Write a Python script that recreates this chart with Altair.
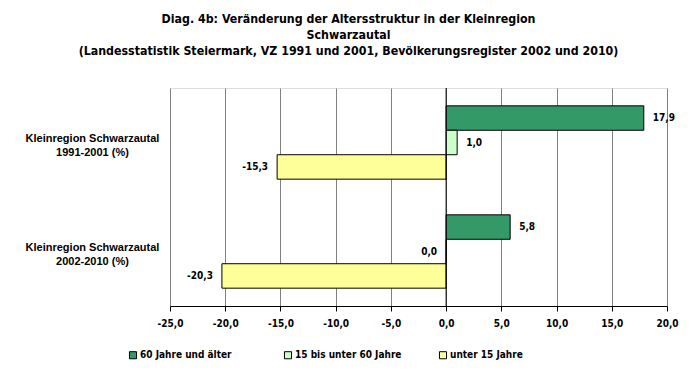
import altair as alt
import pandas as pd

categories = ["Kleinregion Schwarzautal|1991-2001 (%)", "Kleinregion Schwarzautal|2002-2010 (%)"]
series = ["60 Jahre und älter", "15 bis unter 60 Jahre", "unter 15 Jahre"]
values_1991_2001 = [17.9, 1.0, -15.3]
values_2002_2010 = [5.8, 0.0, -20.3]
x_ticks = [-25, -20, -15, -10, -5, 0, 5, 10, 15, 20]
colors = ["#339966", "#CCFFCC", "#FFFF99"]
title_lines = [
    "Diag. 4b: Veränderung  der Altersstruktur  in der Kleinregion",
    "Schwarzautal",
    "(Landesstatistik  Steiermark,  VZ 1991  und 2001,  Bevölkerungsregister  2002 und 2010)",
]

rows = []
for cat, vals in zip(categories, [values_1991_2001, values_2002_2010]):
    for s, v in zip(series, vals):
        rows.append({"cat": cat, "series": s, "value": v,
                     "label": f"{v:.1f}".replace(".", ",")})
df = pd.DataFrame(rows)

NARROW = "Liberation Sans Narrow, DejaVu Sans Condensed, Arial Narrow, sans-serif"
REG = "Liberation Sans, Arial, sans-serif"

xscale = alt.Scale(domain=[-25, 20], nice=False, zero=False)
yscale = alt.Scale(domain=categories, paddingInner=0, paddingOuter=0)
yoff = alt.Scale(domain=series, paddingInner=0, paddingOuter=0.73)

base = alt.Chart(df)

bars = base.mark_bar(stroke="black", strokeWidth=1).encode(
    x=alt.X("value:Q", scale=xscale, title=None,
            axis=alt.Axis(values=x_ticks, format=".1f",
                          labelExpr="replace(replace(datum.label, '.', ','), '−', '-')",
                          grid=True, gridColor="#808080", gridWidth=1,
                          domainColor="black", tickColor="black", tickSize=5,
                          labelFont=NARROW, labelFontSize=10, labelFontWeight="bold",
                          labelColor="black", labelPadding=7, labelFlush=False,
                          labelOverlap=False)),
    y=alt.Y("cat:N", scale=yscale, sort=categories, title=None,
            axis=alt.Axis(labelExpr="split(datum.label, '|')", domain=False, ticks=False,
                          grid=False, labelAlign="center", labelBaseline="middle",
                          labelPadding=78, labelFont=REG, labelFontSize=11,
                          labelFontWeight="bold", labelColor="black", labelLineHeight=14,
                          labelOffset=-4, labelLimit=300)),
    yOffset=alt.YOffset("series:N", scale=yoff, sort=series),
    color=alt.Color("series:N", scale=alt.Scale(domain=series, range=colors), sort=series,
                    title=None,
                    legend=alt.Legend(orient="none", legendX=-42, legendY=262,
                                      direction="horizontal", columns=3, gridAlign="all",
                                      columnPadding=35, symbolType="square", symbolSize=50,
                                      symbolStrokeColor="black", symbolStrokeWidth=1,
                                      labelFont=NARROW, labelFontSize=10,
                                      labelFontWeight="bold", labelColor="black",
                                      labelOffset=2)),
)

text_common = dict(font=NARROW, fontSize=10, fontWeight="bold", color="black", baseline="middle")

pos_text = base.transform_filter("datum.value > 0").mark_text(align="left", dx=9, **text_common).encode(
    x=alt.X("value:Q", scale=xscale),
    y=alt.Y("cat:N", scale=yscale, sort=categories),
    yOffset=alt.YOffset("series:N", scale=yoff, sort=series),
    text="label:N",
)
neg_text = base.transform_filter("datum.value <= 0").mark_text(align="right", dx=-9, **text_common).encode(
    x=alt.X("value:Q", scale=xscale),
    y=alt.Y("cat:N", scale=yscale, sort=categories),
    yOffset=alt.YOffset("series:N", scale=yoff, sort=series),
    text="label:N",
)

zero_rule = alt.Chart(pd.DataFrame({"x": [0]})).mark_rule(color="black", strokeWidth=1).encode(
    x=alt.X("x:Q", scale=xscale)
)

chart = alt.layer(bars, zero_rule, pos_text, neg_text).properties(
    width=497, height=218,
    padding={"left": 162, "top": 80, "right": 22, "bottom": 58},
    autosize="none",
    title=alt.TitleParams(text=title_lines, anchor="middle", frame="group", dx=-70,
                          offset=30, font=NARROW, fontSize=12.3, fontWeight="bold",
                          color="black", lineHeight=16),
).configure_view(stroke="black", strokeWidth=1).configure(background="white")

chart.save("out.html", embed_options={"renderer": "svg", "actions": False})
